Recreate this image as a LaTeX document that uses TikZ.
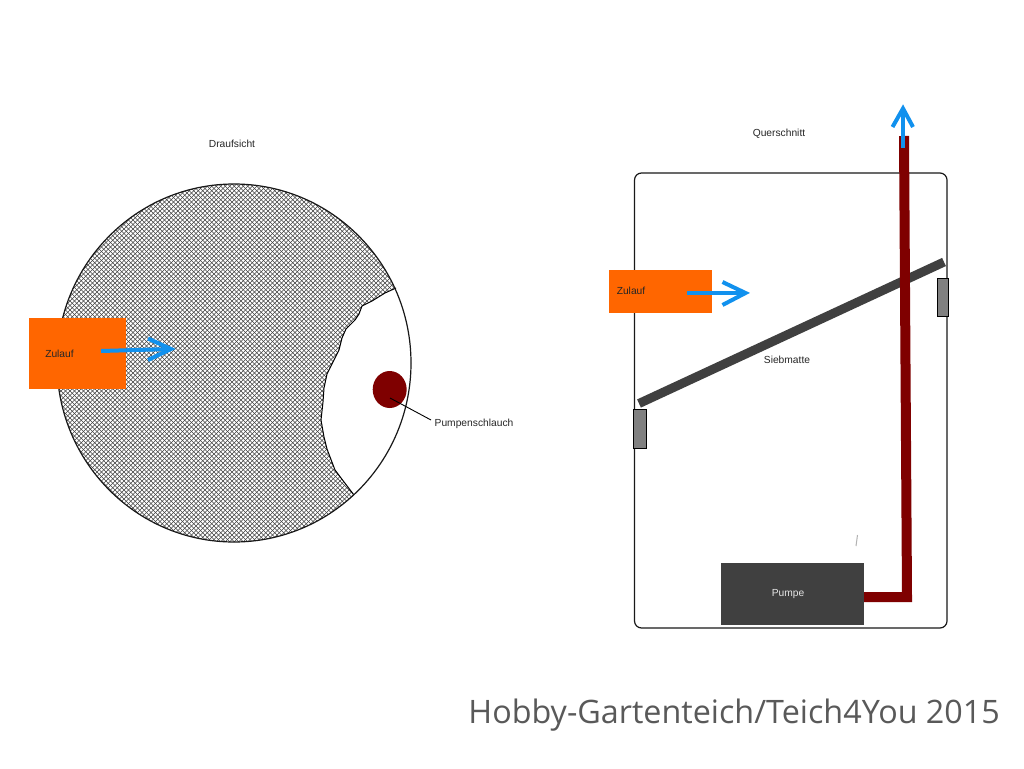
\documentclass[tikz,border=0pt]{standalone}
\usepackage{fontspec}
\setmainfont{Liberation Sans}
\newfontfamily\creditfont{Open Sans}
\usetikzlibrary{shapes.geometric,calc}
\definecolor{orangebox}{HTML}{FF6600}
\definecolor{flowblue}{HTML}{1191EE}
\definecolor{hosered}{HTML}{7F0000}
\definecolor{darkgrey}{HTML}{404040}
\definecolor{midgrey}{HTML}{808080}
\definecolor{credit}{HTML}{595959}
\tikzset{
  x=1pt,y=-1pt,
  small/.style={font=\fontsize{10.25}{12}\selectfont,inner sep=0pt,text=black!85},
  inlet/.style={fill=orangebox,draw=none,inner sep=0pt},
  flow/.style={draw=flowblue,line width=4pt},
  hose/.style={draw=hosered,line width=10pt},
  bracket/.style={fill=midgrey,draw=black,line width=0.9pt},
  outline/.style={draw=black!90,line width=1.2pt},
  hatch/.style={draw=black!75,line width=0.6pt},
}
\begin{document}
\begin{tikzpicture}
\useasboundingbox (0,0) rectangle (1024,768);
\fill[white] (0,0) rectangle (1024,768);

% Top view
\begin{scope}
\clip (234,363) ellipse [x radius=177,y radius=179];
\foreach \k in {0,...,180} {
  \draw[hatch] ({-200+4.5*\k},184) -- ({-200+4.5*\k+360},544);
  \draw[hatch] ({-200+4.5*\k+360},184) -- ({-200+4.5*\k},544);
}
\fill[white] (396,288) -- (385,293) -- (372,301) -- (362,306) -- (359,314) -- (355,320) -- (346,329) -- (342,338) -- (339,350) -- (334,360) -- (327,374) -- (324,388) -- (323,402) -- (321,420) -- (324,437) -- (327,449) -- (335,470) -- (341,478) -- (354,495) -- (440,495) -- (440,288) -- cycle;
\end{scope}
\draw[black,line width=1pt,line join=round] (396,288) -- (385,293) -- (372,301) -- (362,306) -- (359,314) -- (355,320) -- (346,329) -- (342,338) -- (339,350) -- (334,360) -- (327,374) -- (324,388) -- (323,402) -- (321,420) -- (324,437) -- (327,449) -- (335,470) -- (341,478) -- (354,495);
\draw[outline] (234,363) ellipse [x radius=177,y radius=179];

\node[small] (draufsicht) at (232,143.5) {Draufsicht};
\node[inlet,minimum width=97pt,minimum height=71pt] (zulaufa) at (77.5,353.5) {};
\node[small] (zulaufatext) at (59.5,353.5) {Zulauf};
\coordinate (aftail) at (101,351);
\coordinate (aftip) at (171,349);
\draw[flow] (aftail) -- (aftip);
\draw[flow] (148,338.5) -- (aftip) -- (148,360);

\node[ellipse,fill=hosered,draw=none,minimum width=34pt,minimum height=37pt,inner sep=0pt] (hosedot) at (389.7,389.5) {};
\node[small,anchor=west] (pumpenschlauch) at (434.5,424) {Pumpenschlauch};
\coordinate (leaderstart) at (390,398);
\draw[black,line width=0.9pt] (leaderstart) -- (431,420);

% Cross section
\draw[outline,rounded corners=7pt] (634.5,173) rectangle (947,628);
\node[small] (querschnitt) at (779,134) {Querschnitt};
\node[inlet,minimum width=103pt,minimum height=43pt] (zulaufb) at (660.5,291.5) {};
\node[small] (zulaufbtext) at (631,290.5) {Zulauf};
\coordinate (bftail) at (687,293);
\coordinate (bftip) at (745.5,293);
\draw[flow] (bftail) -- (bftip);
\draw[flow] (722.5,282) -- (bftip) -- (722.5,305);

\coordinate (matleft) at (639,403.5);
\coordinate (matright) at (944,262);
\draw[darkgrey,line width=9pt] (matleft) -- (matright);
\node[small] (siebmatte) at (787,359.5) {Siebmatte};
\node[bracket,minimum width=13pt,minimum height=39pt,inner sep=0pt] (bracketl) at (640,428.5) {};
\node[bracket,minimum width=11pt,minimum height=38pt,inner sep=0pt] (bracketr) at (942.5,297) {};

\node[fill=darkgrey,minimum width=143pt,minimum height=62pt,inner sep=0pt] (pumpe) at (792.5,593.5) {};
\node[small,text=white!90!black] (pumpetext) at (788,594) {Pumpe};
\coordinate (hosecorner) at (907,597);
\coordinate (hosetop) at (904,136);
\draw[hose,line join=miter] (pumpe.east |- hosecorner) -- (hosecorner) -- (hosetop);
\coordinate (cftail) at (903,148);
\coordinate (cftip) at (903,108.5);
\draw[flow] (cftail) -- (cftip);
\draw[flow] (892.5,127) -- (cftip) -- (913,127);

\draw[black!30,line width=1pt] (857.5,535) -- (856,546);

\node[anchor=east,inner sep=0pt,text=credit,font=\creditfont\fontsize{32.3}{38}\selectfont] (creditline) at (1000,715) {Hobby-Gartenteich/Teich4You 2015};
\end{tikzpicture}
\end{document}
